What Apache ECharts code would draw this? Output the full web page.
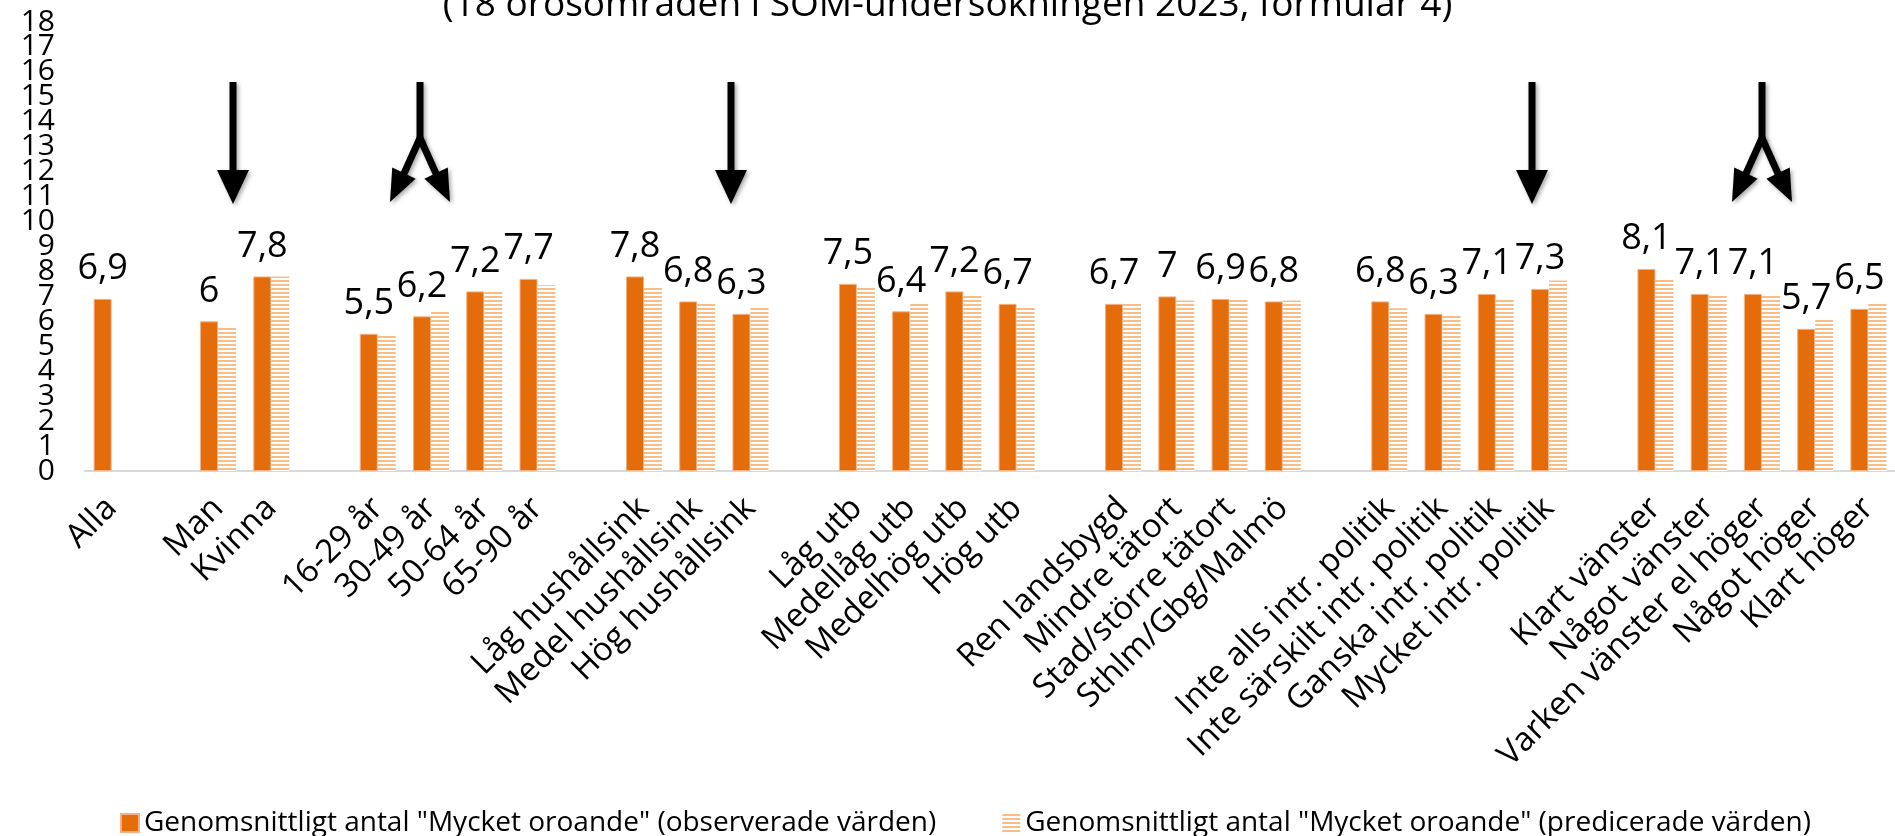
<!DOCTYPE html>
<html>
<head>
<meta charset="utf-8">
<script src="https://cdn.jsdelivr.net/npm/echarts@6/dist/echarts.min.js"></script>
<style>
  html, body { margin: 0; padding: 0; background: #fff; }
  #chart { width: 1895px; height: 836px; }
</style>
</head>
<body>
<div id="chart"></div>
<script>
const categories = [
  'Alla', '',
  'Man', 'Kvinna', '',
  '16-29 år', '30-49 år', '50-64 år', '65-90 år', '',
  'Låg hushållsink', 'Medel hushållsink', 'Hög hushållsink', '',
  'Låg utb', 'Medellåg utb', 'Medelhög utb', 'Hög utb', '',
  'Ren landsbygd', 'Mindre tätort', 'Stad/större tätort', 'Sthlm/Gbg/Malmö', '',
  'Inte alls intr. politik', 'Inte särskilt intr. politik', 'Ganska intr. politik', 'Mycket intr. politik', '',
  'Klart vänster', 'Något vänster', 'Varken vänster el höger', 'Något höger', 'Klart höger'
];
const observed = [
  6.9, null,
  6.0, 7.8, null,
  5.5, 6.2, 7.2, 7.7, null,
  7.8, 6.8, 6.3, null,
  7.5, 6.4, 7.2, 6.7, null,
  6.7, 7.0, 6.9, 6.8, null,
  6.8, 6.3, 7.1, 7.3, null,
  8.1, 7.1, 7.1, 5.7, 6.5
];
const predicted = [
  null, null,
  5.75, 7.8, null,
  5.43, 6.39, 7.2, 7.45, null,
  7.35, 6.75, 6.6, null,
  7.35, 6.75, 7.05, 6.56, null,
  6.71, 6.84, 6.88, 6.84, null,
  6.52, 6.24, 6.9, 7.64, null,
  7.68, 7.03, 7.03, 6.09, 6.72
];
const seriesNames = [
  'Genomsnittligt antal "Mycket oroande" (observerade värden)',
  'Genomsnittligt antal "Mycket oroande" (predicerade värden)'
];
const titleText = '(18 orosområden i SOM-undersökningen 2023, formulär 4)';
const yMin = 0, yMax = 18, yStep = 1;

const font = '"Open Sans", sans-serif';

// randigt mönster för predicerade staplar
function stripes() {
  const c = document.createElement('canvas');
  c.width = 4;
  c.height = 4;
  const ctx = c.getContext('2d');
  ctx.fillStyle = '#ffffff';
  ctx.fillRect(0, 0, 4, 4);
  ctx.fillStyle = '#F8BD86';
  ctx.fillRect(0, 0, 4, 2);
  return c;
}

// pilar (annoteringar)
function arrowHead(x1, y1, x2, y2, len, half) {
  const dx = x2 - x1, dy = y2 - y1;
  const d = Math.sqrt(dx * dx + dy * dy);
  const ux = dx / d, uy = dy / d;
  const bx = x2 - ux * len, by = y2 - uy * len;
  return [[bx - uy * half, by + ux * half], [bx + uy * half, by - ux * half], [x2, y2]];
}
const shadow = { shadowBlur: 4, shadowColor: 'rgba(0,0,0,0.35)', shadowOffsetX: 2, shadowOffsetY: 2 };
const arrowStyle = Object.assign({ fill: '#000', stroke: '#000', lineWidth: 7 }, shadow);
const headStyle = Object.assign({ fill: '#000' }, shadow);
function singleArrow(x) {
  return [
    { type: 'line', shape: { x1: x, y1: 82, x2: x, y2: 176 }, style: arrowStyle },
    { type: 'polygon', shape: { points: arrowHead(x, 82, x, 204, 34, 16) }, style: headStyle }
  ];
}
function splitArrow(x) {
  const out = [{ type: 'line', shape: { x1: x, y1: 82, x2: x, y2: 142 }, style: arrowStyle }];
  [-1, 1].forEach(s => {
    out.push({ type: 'line', shape: { x1: x, y1: 138, x2: x + s * 18, y2: 178 }, style: arrowStyle });
    out.push({ type: 'polygon', shape: { points: arrowHead(x, 140, x + s * 30, 202, 32, 13) }, style: headStyle });
  });
  return out;
}

// två y-axlar (jämna/udda etiketter) så att inga etiketter döljs
function yAxisFor(even) {
  return {
    type: 'value',
    position: 'left',
    min: yMin,
    max: yMax,
    interval: yStep,
    axisLine: { show: false },
    axisTick: { show: false },
    splitLine: { show: false },
    axisLabel: {
      margin: 30,
      showMinLabel: even,
      showMaxLabel: even,
      fontFamily: font,
      fontSize: 30,
      color: '#000',
      formatter: v => ((v % 2 === 0) === even ? String(v) : '')
    }
  };
}

const chart = echarts.init(document.getElementById('chart'));
chart.setOption({
  animation: false,
  title: {
    text: titleText,
    left: 'center',
    top: -18,
    textStyle: { fontFamily: font, fontSize: 37, fontWeight: 'normal', color: '#000' }
  },
  legend: {
    left: 115,
    top: 804,
    itemWidth: 18,
    itemHeight: 18,
    itemGap: 66,
    icon: 'rect',
    textStyle: { fontFamily: font, fontSize: 28, color: '#000' },
    data: seriesNames
  },
  grid: { left: 85, right: 0, top: 22, bottom: 365 },
  xAxis: {
    type: 'category',
    data: categories,
    axisLine: { lineStyle: { color: '#d9d9d9', width: 2 } },
    axisTick: { show: false },
    axisLabel: {
      interval: 0,
      rotate: 45,
      margin: 32,
      fontFamily: font,
      fontSize: 33,
      color: '#000'
    }
  },
  yAxis: [yAxisFor(true), yAxisFor(false)],
  series: [
    {
      name: seriesNames[0],
      type: 'bar',
      data: observed,
      barWidth: 18,
      barGap: '0%',
      itemStyle: { color: '#E46C0A', borderColor: '#F4B183', borderWidth: 1 },
      label: {
        show: true,
        position: 'top',
        distance: 12,
        fontFamily: font,
        fontSize: 36,
        color: '#000',
        formatter: p => String(p.value).replace('.', ',')
      }
    },
    {
      name: seriesNames[1],
      type: 'bar',
      data: predicted,
      barWidth: 18,
      barGap: '0%',
      itemStyle: { color: { image: stripes(), repeat: 'repeat' } }
    }
  ],
  graphic: [].concat(
    singleArrow(233),
    splitArrow(420),
    singleArrow(731),
    singleArrow(1532),
    splitArrow(1762)
  )
});
</script>
</body>
</html>
